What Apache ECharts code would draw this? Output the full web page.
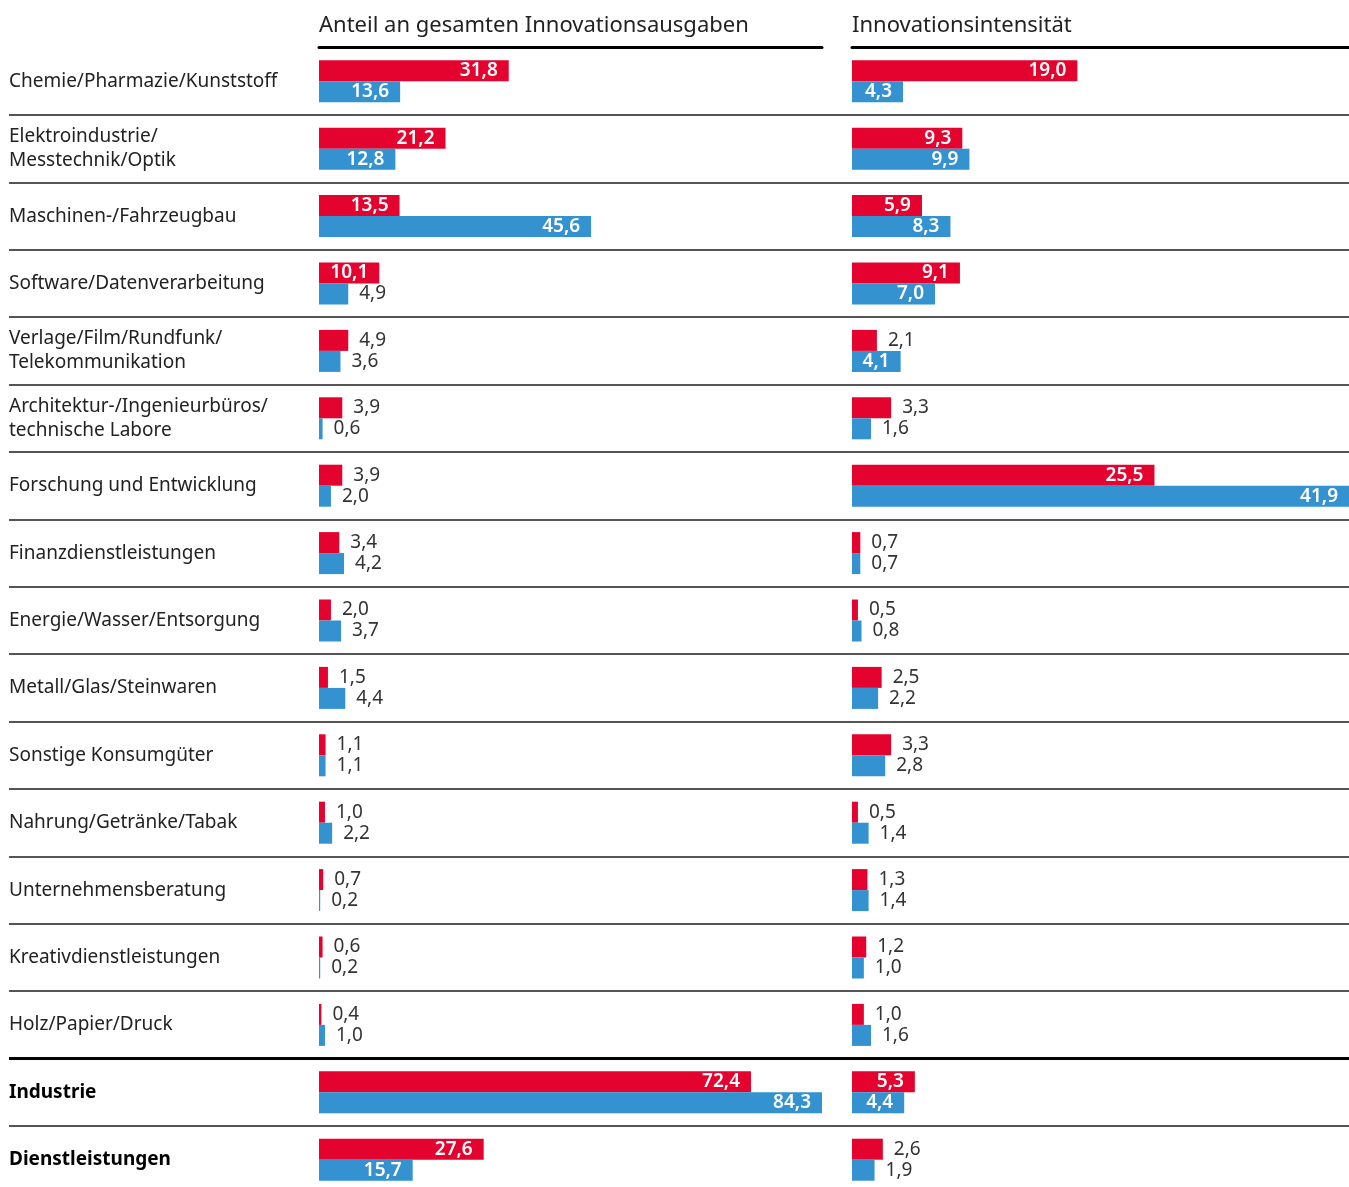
<!DOCTYPE html>
<html>
<head>
<meta charset="utf-8">
<script src="https://cdn.jsdelivr.net/npm/echarts@6/dist/echarts.min.js"></script>
<style>
  html, body { margin: 0; padding: 0; background: #fff; overflow: hidden; }
  #main { width: 1349px; height: 1200px; }
</style>
</head>
<body>
<div id="main"></div>
<script>
// Branchen
var categories = [
  'Chemie/Pharmazie/Kunststoff',
  'Elektroindustrie/\nMesstechnik/Optik',
  'Maschinen-/Fahrzeugbau',
  'Software/Datenverarbeitung',
  'Verlage/Film/Rundfunk/\nTelekommunikation',
  'Architektur-/Ingenieurbüros/\ntechnische Labore',
  'Forschung und Entwicklung',
  'Finanzdienstleistungen',
  'Energie/Wasser/Entsorgung',
  'Metall/Glas/Steinwaren',
  'Sonstige Konsumgüter',
  'Nahrung/Getränke/Tabak',
  'Unternehmensberatung',
  'Kreativdienstleistungen',
  'Holz/Papier/Druck',
  'Industrie',
  'Dienstleistungen'
];
var boldCats = ['Industrie', 'Dienstleistungen'];

// Anteil an gesamten Innovationsausgaben
var anteilRot = [31.8, 21.2, 13.5, 10.1, 4.9, 3.9, 3.9, 3.4, 2.0, 1.5, 1.1, 1.0, 0.7, 0.6, 0.4, 72.4, 27.6];
var anteilBlau = [13.6, 12.8, 45.6, 4.9, 3.6, 0.6, 2.0, 4.2, 3.7, 4.4, 1.1, 2.2, 0.2, 0.2, 1.0, 84.3, 15.7];

// Innovationsintensität
var intensRot = [19.0, 9.3, 5.9, 9.1, 2.1, 3.3, 25.5, 0.7, 0.5, 2.5, 3.3, 0.5, 1.3, 1.2, 1.0, 5.3, 2.6];
var intensBlau = [4.3, 9.9, 8.3, 7.0, 4.1, 1.6, 41.9, 0.7, 0.8, 2.2, 2.8, 1.4, 1.4, 1.0, 1.6, 4.4, 1.9];

var titles = ['Anteil an gesamten Innovationsausgaben', 'Innovationsintensität'];

var ROT = '#e4032e';
var BLAU = '#3392cf';
var FONT = 'Noto Sans';

var gridTop = 47.6, rowH = 67.4;
var gridH = rowH * categories.length;
var leftL = 319, leftW = 503;
var rightL = 852, rightW = 497;
var leftMax = 84.3, rightMax = 41.9;

function fmt(v) {
  return v.toFixed(1).replace('.', ',');
}

// Beschriftung innen (weiß) oder außen (dunkel), je nach Balkenbreite
function makeData(values, pxPerUnit) {
  return values.map(function(v) {
    var inside = v * pxPerUnit > 45;
    return {
      value: v,
      label: inside ? {
        position: 'insideRight', distance: 11, color: '#fff', fontWeight: 600
      } : {
        position: 'right', distance: 11, color: '#333', fontWeight: 'normal'
      }
    };
  });
}

function barSeries(name, values, idx, color, pxPerUnit) {
  return {
    name: name,
    type: 'bar',
    xAxisIndex: idx,
    yAxisIndex: idx,
    barWidth: 21,
    barGap: '0%',
    itemStyle: { color: color },
    label: {
      show: true,
      fontFamily: FONT,
      fontSize: 19,
      formatter: function(p) { return fmt(p.value); }
    },
    data: makeData(values, pxPerUnit),
    silent: true
  };
}

// Trennlinien zwischen den Zeilen
var sepLines = [];
for (var i = 1; i < categories.length; i++) {
  var thick = categories[i] === 'Industrie';
  sepLines.push({
    yAxis: i,
    lineStyle: { color: thick ? '#000' : '#555', width: thick ? 3 : 2, type: 'solid' }
  });
}

var chart = echarts.init(document.getElementById('main'));

var option = {
  backgroundColor: '#fff',
  animation: false,
  textStyle: { fontFamily: FONT },
  title: [
    { text: titles[0], left: leftL, top: 15, padding: 0,
      textStyle: { fontFamily: FONT, fontSize: 22, fontWeight: 'normal', color: '#222' } },
    { text: titles[1], left: rightL, top: 15, padding: 0,
      textStyle: { fontFamily: FONT, fontSize: 22, fontWeight: 'normal', color: '#222' } }
  ],
  grid: [
    { left: leftL, width: leftW, top: gridTop, height: gridH },
    { left: rightL, width: rightW, top: gridTop, height: gridH },
    { left: 9, right: 0, top: gridTop, height: gridH }
  ],
  xAxis: [
    { gridIndex: 0, type: 'value', min: 0, max: leftMax, position: 'top',
      axisLine: { show: true, lineStyle: { color: '#000', width: 3 } },
      axisTick: { show: false }, axisLabel: { show: false }, splitLine: { show: false } },
    { gridIndex: 1, type: 'value', min: 0, max: rightMax, position: 'top',
      axisLine: { show: true, lineStyle: { color: '#000', width: 3 } },
      axisTick: { show: false }, axisLabel: { show: false }, splitLine: { show: false } },
    { gridIndex: 2, type: 'value', min: 0, max: 1, show: false }
  ],
  yAxis: [
    { gridIndex: 0, type: 'category', data: categories, inverse: true,
      axisLine: { show: false }, axisTick: { show: false },
      axisLabel: {
        align: 'left', margin: leftL - 9, color: '#222', fontFamily: FONT, fontSize: 19, lineHeight: 24,
        formatter: function(v) { return boldCats.indexOf(v) >= 0 ? '{b|' + v + '}' : v; },
        rich: { b: { fontWeight: 'bold', color: '#000', fontFamily: FONT, fontSize: 19 } }
      } },
    { gridIndex: 1, type: 'category', data: categories, inverse: true,
      axisLine: { show: false }, axisTick: { show: false }, axisLabel: { show: false } },
    { gridIndex: 2, type: 'value', min: 0, max: categories.length, inverse: true, show: false }
  ],
  series: [
    barSeries('rot', anteilRot, 0, ROT, leftW / leftMax),
    barSeries('blau', anteilBlau, 0, BLAU, leftW / leftMax),
    barSeries('rot', intensRot, 1, ROT, rightW / rightMax),
    barSeries('blau', intensBlau, 1, BLAU, rightW / rightMax),
    {
      type: 'scatter', xAxisIndex: 2, yAxisIndex: 2, data: [], silent: true,
      markLine: { silent: true, symbol: ['none', 'none'], label: { show: false }, data: sepLines }
    }
  ]
};

chart.setOption(option);
</script>
</body>
</html>
